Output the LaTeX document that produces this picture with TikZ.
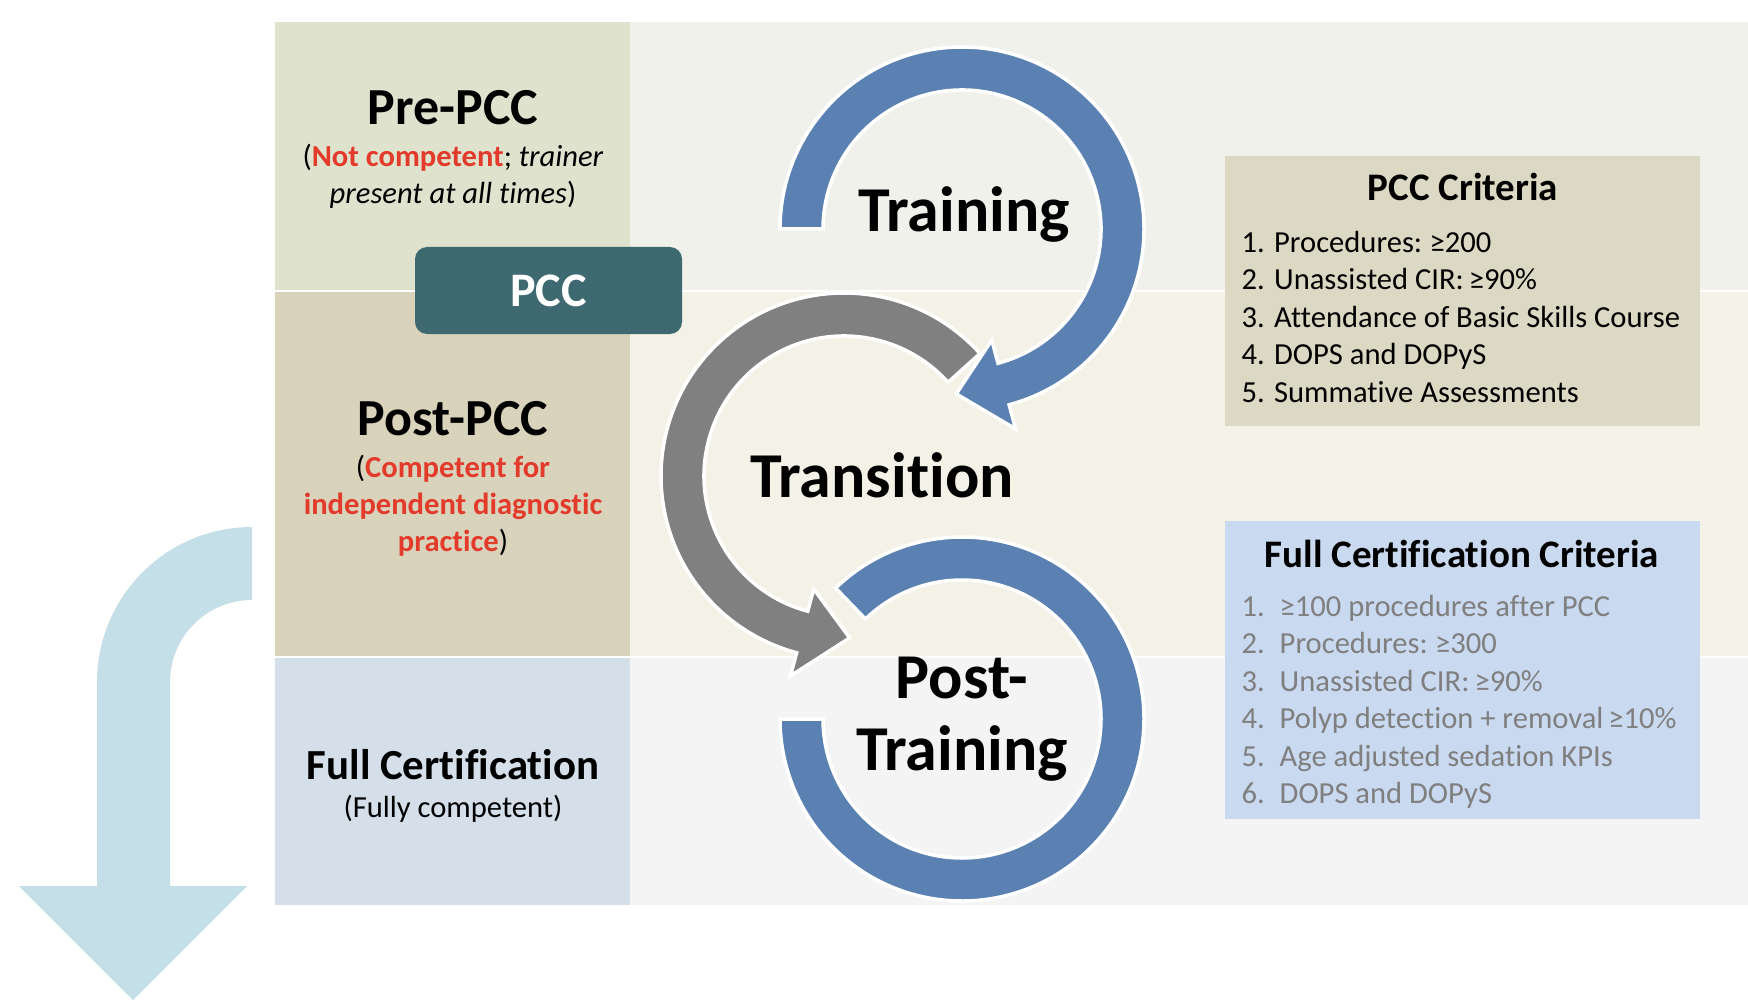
\documentclass[tikz,border=0pt]{standalone}
\usepackage{fontspec}
\setmainfont{Carlito}[RawFeature={-liga;-clig;-calt;-dlig}]

\definecolor{rowtop}{HTML}{F0F1EB}
\definecolor{rowmid}{HTML}{F4F1E6}
\definecolor{rowbot}{HTML}{F4F4F4}
\definecolor{cellpre}{HTML}{DFE3CE}
\definecolor{cellpost}{HTML}{D9D3BC}
\definecolor{cellfull}{HTML}{D4DFEA}
\definecolor{pccteal}{HTML}{3E6971}
\definecolor{critbox}{HTML}{DBD8C3}
\definecolor{fullbox}{HTML}{C9D9EF}
\definecolor{ringblue}{HTML}{5B81B3}
\definecolor{ringgray}{HTML}{808080}
\definecolor{uturn}{HTML}{C5DFE9}
\definecolor{pccred}{HTML}{E33B2B}
\definecolor{listgray}{HTML}{7F7F7F}

\newcommand{\numbox}[1]{\makebox[3.8mm][l]{#1}}
\newcommand{\atleast}{\kern-0.06em≥}

\tikzset{
	stagetitle/.style={inner sep=0pt, font=\fontsize{14.8}{17}\selectfont\bfseries},
	stagenote/.style={inner sep=0pt, align=center, font=\fontsize{8.7}{10.5}\selectfont},
	bigword/.style={inner sep=0pt, align=center, font=\fontsize{18.2}{20.5}\selectfont\bfseries},
	boxtitle/.style={inner sep=0pt, font=\fontsize{11.1}{13}\selectfont\bfseries},
	listtext/.style={inner sep=0pt, align=left, anchor=west, font=\fontsize{8.7}{10.67}\selectfont},
	ring/.style={draw=white, line width=0.35mm},
}

\begin{document}
\begin{tikzpicture}[x=0.1mm,y=0.1mm]
		\useasboundingbox (0,0) rectangle (1748,1000);
		\coordinate (ctrain) at (962,771);
		\coordinate (ctrans) at (844,524);
		\coordinate (cpost) at (962,281);
		
		% rows
		\fill[rowtop] (275,978) rectangle (1748,710);
		\fill[rowmid] (275,708) rectangle (1748,344);
		\fill[rowbot] (275,342) rectangle (1748,95);
		\fill[cellpre] (275,978) rectangle (630,710);
		\fill[cellpost] (275,708) rectangle (630,344);
		\fill[cellfull] (275,342) rectangle (630,95);
		
		% u-turn arrow on the left
		\fill[uturn] (252,473) arc[start angle=90, end angle=180, radius=155] -- (97,114) -- (19,114) -- (133,0) -- (247,114) -- (170,114) -- (170,318) arc[start angle=180, end angle=90, radius=82] -- cycle;
		
		\node[fill=pccteal, rounded corners=1.2mm, minimum width=26.7mm, minimum height=8.7mm, text=white, font=\fontsize{13.7}{16}\selectfont\bfseries] (pcc) at (548.5,709.5) {PCC};
		
		\fill[critbox] (1225,844) rectangle (1700,574);
		\fill[fullbox] (1225,479) rectangle (1700,181);
		
		% rings
		\begin{scope}[shift={(cpost)}]
			\fill[ringblue, ring] (134:182) arc[start angle=134, end angle=-180, radius=182] -- (180:139) arc[start angle=-180, end angle=134, radius=139] -- cycle;
		\end{scope}
		\begin{scope}[shift={(ctrans)}]
			\fill[ringgray, ring] (42:183) arc[start angle=42, end angle=255, radius=183] -- (255:207) -- (272:162) -- (255:117) -- (255:140) arc[start angle=255, end angle=42, radius=140] -- cycle;
		\end{scope}
		\begin{scope}[shift={(ctrain)}]
			\fill[ringblue, ring] (180:182) arc[start angle=180, end angle=-75, radius=182] -- (-75:207) -- (-92:165) -- (-75:115) -- (-75:139) arc[start angle=-75, end angle=180, radius=139] -- cycle;
		\end{scope}
		
		\node[bigword] (train) at (964,786) {Training};
		\node[bigword] (trans) at (882,525) {Transition};
		\node[bigword] (posttrain) at (962,281) {Post-\\Training};
		
		% left column
		\node[stagetitle] (pre) at (453,892) {Pre-PCC};
		\node[stagenote] (prenote) at (453,824) {(\textcolor{pccred}{\textbf{Not competent}}; \textit{trainer}\\\textit{present at all times})};
		\node[stagetitle] (post) at (453,581) {Post-PCC};
		\node[stagenote] (postnote) at (453,494) {(\textcolor{pccred}{\textbf{Competent for}}\\\textcolor{pccred}{\textbf{independent diagnostic}}\\\textcolor{pccred}{\textbf{practice}})};
		\node[stagetitle, font=\fontsize{12.2}{14}\selectfont\bfseries] (full) at (453,235) {Full Certification};
		\node[stagenote] (fullnote) at (453,191) {(Fully competent)};
		
		% criteria
		\node[boxtitle] (pcccrit) at (1463,813) {PCC Criteria};
		\node[listtext] (pcclist) at (1241,683) {1. Procedures: \atleast200\\2. Unassisted CIR: \atleast90\%\\3. Attendance of Basic Skills Course\\4. DOPS and DOPyS\\5. Summative Assessments};
		\node[boxtitle] (fullcrit) at (1462,446) {Full Certification Criteria};
		\node[listtext, text=listgray] (fulllist) at (1241,298) {\numbox{1.}≥100 procedures after PCC\\\numbox{2.}Procedures: \atleast300\\\numbox{3.}Unassisted CIR: \atleast90\%\\\numbox{4.}Polyp detection + removal \atleast10\%\\\numbox{5.}Age adjusted sedation KPIs\\\numbox{6.}DOPS and DOPyS};
	\end{tikzpicture}
\end{document}
